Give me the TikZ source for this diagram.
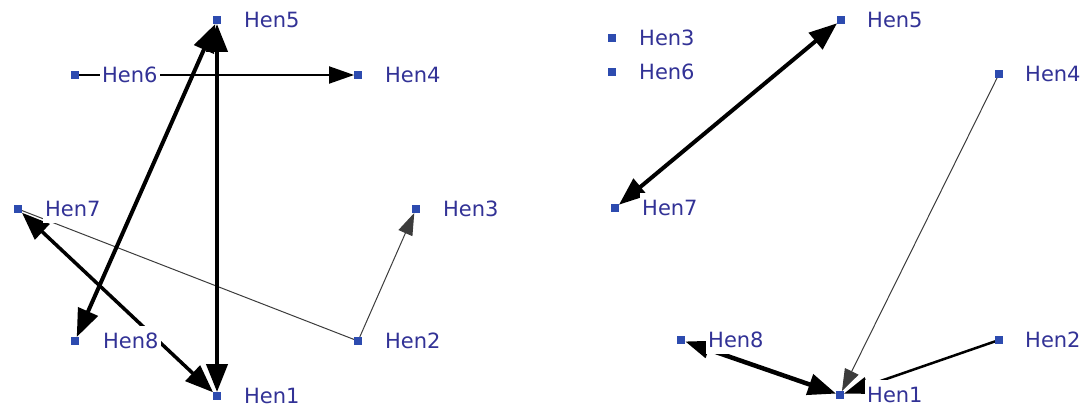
\documentclass[tikz,border=0pt]{standalone}
\usepackage{fontspec}
\setmainfont{DejaVu Sans}
\usetikzlibrary{arrows.meta}
\pgfdeclarelayer{bg}
\pgfsetlayers{bg,main}
\definecolor{hentext}{RGB}{50,50,150}
\definecolor{hensq}{RGB}{45,75,175}
\definecolor{thinline}{RGB}{60,60,60}
\tikzset{
  BigTri/.tip={Triangle[length=28pt,width=21pt]},
  MedTri/.tip={Triangle[length=25pt,width=17pt]},
  SmlTri/.tip={Triangle[length=22pt,width=15pt]},
  sq/.style={fill=hensq,minimum size=7.5pt,inner sep=0pt},
  lab/.style={anchor=base west,fill=white,text=hentext,inner xsep=2pt,inner ysep=1.5pt,
    text height=21pt,text depth=5pt,font=\fontsize{21}{25}\selectfont},
  heavy/.style={line width=4pt,draw=black},
  medium/.style={line width=2.5pt,draw=black},
  slim/.style={line width=1pt,draw=thinline}
}
\begin{document}
\begin{tikzpicture}[x=1pt,y=-1pt]
\useasboundingbox (0,0) rectangle (1084,408);
% ---------- left graph ----------
\node[sq] (L5) at (217,20) {};
\node[sq] (L6) at (75,75) {};
\node[sq] (L4) at (358,75) {};
\node[sq] (L7) at (18,209) {};
\node[sq] (L3) at (416,209) {};
\node[sq] (L8) at (75,341) {};
\node[sq] (L2) at (358,341) {};
\node[sq] (L1) at (217,396) {};
\node[lab] (L5t) at (242,27.5) {Hen5};
\node[lab] (L6t) at (100,82.5) {Hen6};
\node[lab] (L4t) at (383,82.5) {Hen4};
\node[lab] (L7t) at (43,216.5) {Hen7};
\node[lab] (L3t) at (441,216.5) {Hen3};
\node[lab] (L8t) at (101,348.5) {Hen8};
\node[lab] (L2t) at (383,348.5) {Hen2};
\node[lab] (L1t) at (242,403.5) {Hen1};
% ---------- right graph ----------
\node[sq] (R5) at (841,20) {};
\node[sq] (R3) at (612,38) {};
\node[sq] (R6) at (612,72) {};
\node[sq] (R4) at (999,74) {};
\node[sq] (R7) at (615,208) {};
\node[sq] (R8) at (681,340) {};
\node[sq] (R2) at (999,340) {};
\node[sq] (R1) at (840,395) {};
\node[lab] (R5t) at (865,27.5) {Hen5};
\node[lab] (R3t) at (637,45.5) {Hen3};
\node[lab] (R6t) at (637,79.5) {Hen6};
\node[lab] (R4t) at (1023,81.5) {Hen4};
\node[lab] (R7t) at (640,215.5) {Hen7};
\node[lab] (R8t) at (706,347.5) {Hen8};
\node[lab] (R2t) at (1023,347.5) {Hen2};
\node[lab] (R1t) at (865,402.5) {Hen1};
\begin{pgfonlayer}{bg}
% left edges
\draw[slim] (L7) -- (L2);
\draw[slim,-SmlTri] (L2) -- (L3);
\draw[line width=2pt,-MedTri] (L6) -- (L4);
\draw[heavy,BigTri-BigTri] (L5) -- (L1);
\draw[heavy,BigTri-BigTri] (L5) -- (L8);
\draw[line width=3.5pt,BigTri-BigTri] (L7) -- (L1);
% right edges
\draw[heavy,BigTri-BigTri] (R5) -- (R7);
\draw[slim,-SmlTri] (R4) -- (R1);
\draw[medium,-MedTri] (R2) -- (R1);
\draw[line width=4.5pt,MedTri-BigTri] (R8) -- (R1);
\end{pgfonlayer}
\end{tikzpicture}
\end{document}
